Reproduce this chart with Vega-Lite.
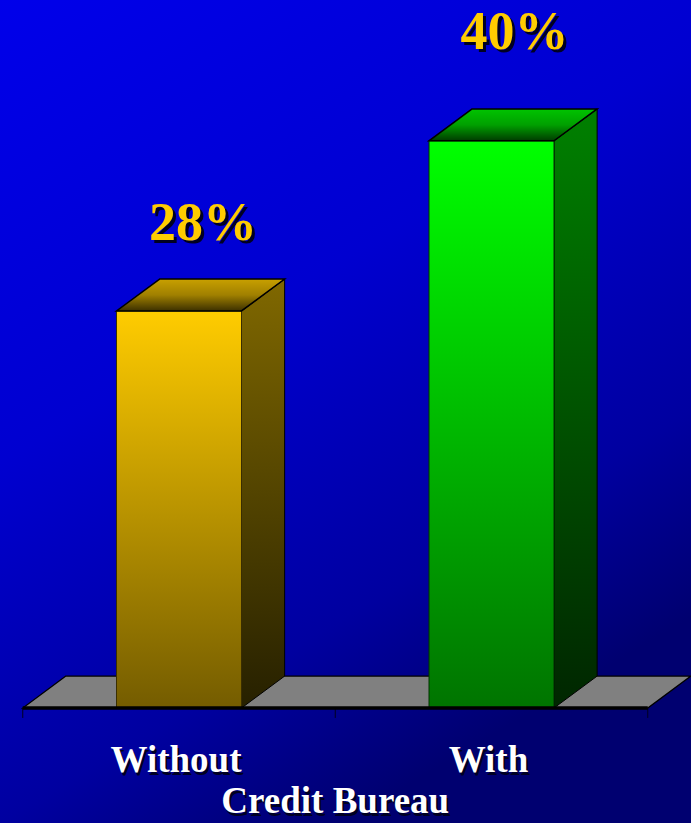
{
  "$schema": "https://vega.github.io/schema/vega-lite/v6.json",
  "width": 691,
  "height": 823,
  "autosize": {"type": "none"},
  "padding": 0,
  "background": "#0000B0",
  "view": {
    "stroke": null,
    "fill": {
      "gradient": "linear", "x1": 0, "y1": 0, "x2": 0.5, "y2": 1,
      "stops": [
        {"offset": 0, "color": "#0000EA"},
        {"offset": 0.45, "color": "#0000D0"},
        {"offset": 0.8, "color": "#0000A0"},
        {"offset": 1, "color": "#000070"}
      ]
    }
  },
  "datasets": {
    "bars": [
      {"group": "Without", "pos": 1, "pct": 28, "label": "28%"},
      {"group": "With", "pos": 2, "pct": 40, "label": "40%"}
    ],
    "sides": [
      {"group": "Without", "edge": 1.2, "top": 28, "base": 0},
      {"group": "Without", "edge": 1.338, "top": 30.25, "base": 2.25},
      {"group": "With", "edge": 2.2, "top": 40, "base": 0},
      {"group": "With", "edge": 2.338, "top": 42.25, "base": 2.25}
    ],
    "tops": [
      {"group": "Without", "level": 28, "left": 0.8, "right": 1.2},
      {"group": "Without", "level": 30.25, "left": 0.938, "right": 1.338},
      {"group": "With", "level": 40, "left": 1.8, "right": 2.2},
      {"group": "With", "level": 42.25, "left": 1.938, "right": 2.338}
    ],
    "floor": [
      {"level": 0, "left": 0.5, "right": 2.5},
      {"level": 2.25, "left": 0.638, "right": 2.638}
    ],
    "ticks": [{"at": 0.5}, {"at": 1.5}, {"at": 2.5}],
    "title": [{"title": "Credit Bureau", "at": 1.5}]
  },
  "layer": [
    {
      "data": {"name": "floor"},
      "mark": {"type": "area", "orient": "horizontal", "fill": "#808080", "stroke": "#000000", "strokeWidth": 1.3},
      "encoding": {
        "y": {"field": "level", "type": "quantitative", "scale": {"domain": [-8.11, 49.93], "nice": false, "zero": false, "padding": 0}, "axis": null},
        "x": {"field": "left", "type": "quantitative", "stack": null, "scale": {"domain": [0.4272, 2.6384], "nice": false, "zero": false, "padding": 0}, "axis": null},
        "x2": {"field": "right"}
      }
    },
    {
      "data": {"name": "ticks"},
      "mark": {"type": "rule", "stroke": "#000020", "strokeWidth": 1},
      "encoding": {
        "x": {"field": "at", "type": "quantitative", "scale": {"domain": [0.4272, 2.6384], "nice": false, "zero": false, "padding": 0}, "axis": null},
        "y": {"datum": 0, "type": "quantitative", "scale": {"domain": [-8.11, 49.93], "nice": false, "zero": false, "padding": 0}, "axis": null},
        "y2": {"datum": -0.7}
      }
    },
    {
      "data": {"name": "sides"},
      "transform": [{"filter": "datum.group === 'Without'"}],
      "mark": {
        "type": "area", "orient": "vertical", "stroke": "#000000", "strokeWidth": 1,
        "fill": {"gradient": "linear", "x1": 0, "y1": 0, "x2": 0, "y2": 1,
          "stops": [{"offset": 0, "color": "#806800"}, {"offset": 1, "color": "#262000"}]}
      },
      "encoding": {
        "x": {"field": "edge", "type": "quantitative", "scale": {"domain": [0.4272, 2.6384], "nice": false, "zero": false, "padding": 0}, "axis": null},
        "y": {"field": "top", "type": "quantitative", "stack": null, "scale": {"domain": [-8.11, 49.93], "nice": false, "zero": false, "padding": 0}, "axis": null},
        "y2": {"field": "base"}
      }
    },
    {
      "data": {"name": "bars"},
      "transform": [{"filter": "datum.group === 'Without'"}],
      "mark": {
        "type": "bar", "size": 125, "stroke": "#3a2e00", "strokeWidth": 1,
        "fill": {"gradient": "linear", "x1": 0, "y1": 0, "x2": 0, "y2": 1,
          "stops": [{"offset": 0, "color": "#FFCC00"}, {"offset": 1, "color": "#745C00"}]}
      },
      "encoding": {
        "x": {"field": "pos", "type": "quantitative", "scale": {"domain": [0.4272, 2.6384], "nice": false, "zero": false, "padding": 0}, "axis": null},
        "y": {"field": "pct", "type": "quantitative", "stack": null, "scale": {"domain": [-8.11, 49.93], "nice": false, "zero": false, "padding": 0}, "axis": null},
        "y2": {"datum": 0}
      }
    },
    {
      "data": {"name": "tops"},
      "transform": [{"filter": "datum.group === 'Without'"}],
      "mark": {
        "type": "area", "orient": "horizontal", "stroke": "#000000", "strokeWidth": 1.5,
        "fill": {"gradient": "linear", "x1": 0, "y1": 0, "x2": 0, "y2": 1,
          "stops": [{"offset": 0, "color": "#C8A000"}, {"offset": 0.5, "color": "#A08000"}, {"offset": 1, "color": "#3C3000"}]}
      },
      "encoding": {
        "y": {"field": "level", "type": "quantitative", "scale": {"domain": [-8.11, 49.93], "nice": false, "zero": false, "padding": 0}, "axis": null},
        "x": {"field": "left", "type": "quantitative", "stack": null, "scale": {"domain": [0.4272, 2.6384], "nice": false, "zero": false, "padding": 0}, "axis": null},
        "x2": {"field": "right"}
      }
    },
    {
      "data": {"name": "sides"},
      "transform": [{"filter": "datum.group === 'With'"}],
      "mark": {
        "type": "area", "orient": "vertical", "stroke": "#000000", "strokeWidth": 1,
        "fill": {"gradient": "linear", "x1": 0, "y1": 0, "x2": 0, "y2": 1,
          "stops": [{"offset": 0, "color": "#008000"}, {"offset": 1, "color": "#002600"}]}
      },
      "encoding": {
        "x": {"field": "edge", "type": "quantitative", "scale": {"domain": [0.4272, 2.6384], "nice": false, "zero": false, "padding": 0}, "axis": null},
        "y": {"field": "top", "type": "quantitative", "stack": null, "scale": {"domain": [-8.11, 49.93], "nice": false, "zero": false, "padding": 0}, "axis": null},
        "y2": {"field": "base"}
      }
    },
    {
      "data": {"name": "bars"},
      "transform": [{"filter": "datum.group === 'With'"}],
      "mark": {
        "type": "bar", "size": 125, "stroke": "#003000", "strokeWidth": 1,
        "fill": {"gradient": "linear", "x1": 0, "y1": 0, "x2": 0, "y2": 1,
          "stops": [{"offset": 0, "color": "#00FF00"}, {"offset": 1, "color": "#007400"}]}
      },
      "encoding": {
        "x": {"field": "pos", "type": "quantitative", "scale": {"domain": [0.4272, 2.6384], "nice": false, "zero": false, "padding": 0}, "axis": null},
        "y": {"field": "pct", "type": "quantitative", "stack": null, "scale": {"domain": [-8.11, 49.93], "nice": false, "zero": false, "padding": 0}, "axis": null},
        "y2": {"datum": 0}
      }
    },
    {
      "data": {"name": "tops"},
      "transform": [{"filter": "datum.group === 'With'"}],
      "mark": {
        "type": "area", "orient": "horizontal", "stroke": "#000000", "strokeWidth": 1.5,
        "fill": {"gradient": "linear", "x1": 0, "y1": 0, "x2": 0, "y2": 1,
          "stops": [{"offset": 0, "color": "#00C400"}, {"offset": 0.5, "color": "#00A000"}, {"offset": 1, "color": "#003C00"}]}
      },
      "encoding": {
        "y": {"field": "level", "type": "quantitative", "scale": {"domain": [-8.11, 49.93], "nice": false, "zero": false, "padding": 0}, "axis": null},
        "x": {"field": "left", "type": "quantitative", "stack": null, "scale": {"domain": [0.4272, 2.6384], "nice": false, "zero": false, "padding": 0}, "axis": null},
        "x2": {"field": "right"}
      }
    },
    {
      "data": {"name": "floor"},
      "transform": [{"filter": "datum.level === 0"}],
      "mark": {"type": "rule", "stroke": "#000000", "strokeWidth": 3.5},
      "encoding": {
        "y": {"field": "level", "type": "quantitative", "scale": {"domain": [-8.11, 49.93], "nice": false, "zero": false, "padding": 0}, "axis": null},
        "x": {"field": "left", "type": "quantitative", "scale": {"domain": [0.4272, 2.6384], "nice": false, "zero": false, "padding": 0}, "axis": null},
        "x2": {"field": "right"}
      }
    },
    {
      "data": {"name": "bars"},
      "transform": [{"filter": "datum.group === 'Without'"}],
      "mark": {"type": "text", "font": "Liberation Serif", "fontWeight": "bold", "fontSize": 54, "fill": "#000022", "baseline": "alphabetic", "align": "center", "dx": 27, "dy": -68},
      "encoding": {
        "x": {"field": "pos", "type": "quantitative", "scale": {"domain": [0.4272, 2.6384], "nice": false, "zero": false, "padding": 0}, "axis": null},
        "y": {"field": "pct", "type": "quantitative", "scale": {"domain": [-8.11, 49.93], "nice": false, "zero": false, "padding": 0}, "axis": null},
        "text": {"field": "label"}
      }
    },
    {
      "data": {"name": "bars"},
      "transform": [{"filter": "datum.group === 'Without'"}],
      "mark": {"type": "text", "font": "Liberation Serif", "fontWeight": "bold", "fontSize": 54, "fill": "#FFCC00", "baseline": "alphabetic", "align": "center", "dx": 24, "dy": -71},
      "encoding": {
        "x": {"field": "pos", "type": "quantitative", "scale": {"domain": [0.4272, 2.6384], "nice": false, "zero": false, "padding": 0}, "axis": null},
        "y": {"field": "pct", "type": "quantitative", "scale": {"domain": [-8.11, 49.93], "nice": false, "zero": false, "padding": 0}, "axis": null},
        "text": {"field": "label"}
      }
    },
    {
      "data": {"name": "bars"},
      "transform": [{"filter": "datum.group === 'With'"}],
      "mark": {"type": "text", "font": "Liberation Serif", "fontWeight": "bold", "fontSize": 54, "fill": "#000022", "baseline": "alphabetic", "align": "center", "dx": 26, "dy": -89},
      "encoding": {
        "x": {"field": "pos", "type": "quantitative", "scale": {"domain": [0.4272, 2.6384], "nice": false, "zero": false, "padding": 0}, "axis": null},
        "y": {"field": "pct", "type": "quantitative", "scale": {"domain": [-8.11, 49.93], "nice": false, "zero": false, "padding": 0}, "axis": null},
        "text": {"field": "label"}
      }
    },
    {
      "data": {"name": "bars"},
      "transform": [{"filter": "datum.group === 'With'"}],
      "mark": {"type": "text", "font": "Liberation Serif", "fontWeight": "bold", "fontSize": 54, "fill": "#FFCC00", "baseline": "alphabetic", "align": "center", "dx": 23, "dy": -92},
      "encoding": {
        "x": {"field": "pos", "type": "quantitative", "scale": {"domain": [0.4272, 2.6384], "nice": false, "zero": false, "padding": 0}, "axis": null},
        "y": {"field": "pct", "type": "quantitative", "scale": {"domain": [-8.11, 49.93], "nice": false, "zero": false, "padding": 0}, "axis": null},
        "text": {"field": "label"}
      }
    },
    {
      "data": {"name": "bars"},
      "mark": {"type": "text", "font": "Liberation Serif", "fontWeight": "bold", "fontSize": 37, "fill": "#000022", "baseline": "alphabetic", "align": "center", "dx": -1, "dy": 3},
      "encoding": {
        "x": {"field": "pos", "type": "quantitative", "scale": {"domain": [0.4272, 2.6384], "nice": false, "zero": false, "padding": 0}, "axis": null},
        "y": {"datum": -4.51, "type": "quantitative", "scale": {"domain": [-8.11, 49.93], "nice": false, "zero": false, "padding": 0}, "axis": null},
        "text": {"field": "group"}
      }
    },
    {
      "data": {"name": "bars"},
      "mark": {"type": "text", "font": "Liberation Serif", "fontWeight": "bold", "fontSize": 37, "fill": "#FFFFFF", "baseline": "alphabetic", "align": "center", "dx": -3},
      "encoding": {
        "x": {"field": "pos", "type": "quantitative", "scale": {"domain": [0.4272, 2.6384], "nice": false, "zero": false, "padding": 0}, "axis": null},
        "y": {"datum": -4.51, "type": "quantitative", "scale": {"domain": [-8.11, 49.93], "nice": false, "zero": false, "padding": 0}, "axis": null},
        "text": {"field": "group"}
      }
    },
    {
      "data": {"name": "title"},
      "mark": {"type": "text", "font": "Liberation Serif", "fontWeight": "bold", "fontSize": 37, "fill": "#000022", "baseline": "alphabetic", "align": "center", "dx": 2, "dy": 3},
      "encoding": {
        "x": {"field": "at", "type": "quantitative", "scale": {"domain": [0.4272, 2.6384], "nice": false, "zero": false, "padding": 0}, "axis": null},
        "y": {"datum": -7.4, "type": "quantitative", "scale": {"domain": [-8.11, 49.93], "nice": false, "zero": false, "padding": 0}, "axis": null},
        "text": {"field": "title"}
      }
    },
    {
      "data": {"name": "title"},
      "mark": {"type": "text", "font": "Liberation Serif", "fontWeight": "bold", "fontSize": 37, "fill": "#FFFFFF", "baseline": "alphabetic", "align": "center"},
      "encoding": {
        "x": {"field": "at", "type": "quantitative", "scale": {"domain": [0.4272, 2.6384], "nice": false, "zero": false, "padding": 0}, "axis": null},
        "y": {"datum": -7.4, "type": "quantitative", "scale": {"domain": [-8.11, 49.93], "nice": false, "zero": false, "padding": 0}, "axis": null},
        "text": {"field": "title"}
      }
    }
  ]
}
